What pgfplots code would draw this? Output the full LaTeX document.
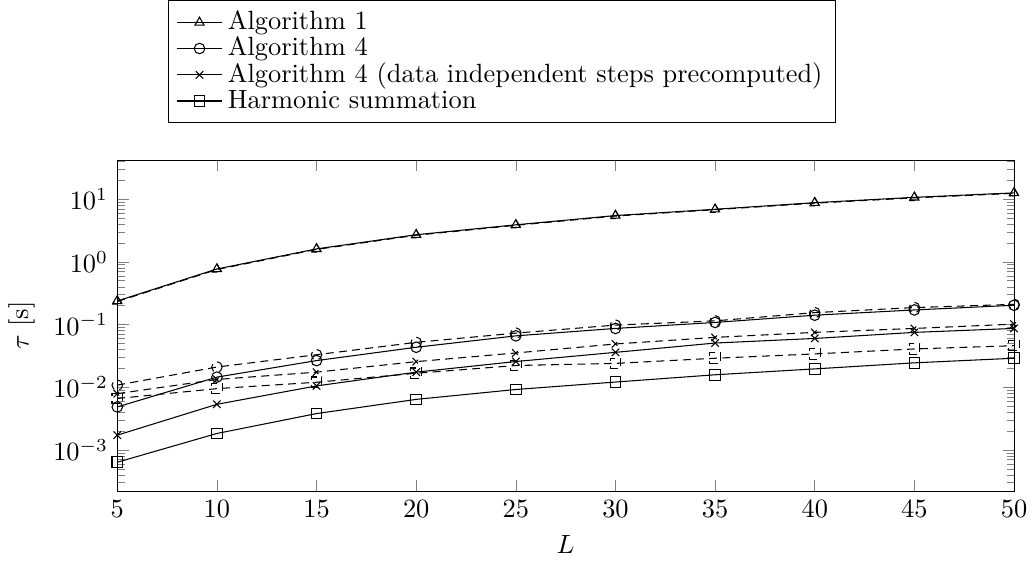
\documentclass[border=0pt]{standalone}
\usepackage{pgfplots}
\pgfplotsset{compat=1.18}
\begin{document}
\begin{tikzpicture}
\begin{axis}[
  scale only axis,
  width=340pt, height=125.5pt,
  ymode=log,
  xmin=5, xmax=50,
  ymin=2.2e-4, ymax=42,
  xtick={5,10,...,50},
  xlabel={$L$},
  ylabel={$\tau$ [s]},
  legend cell align=left,
  legend style={at={(0.8017,1.112)}, anchor=south east, row sep=-2.8pt},
]
\addplot[black, mark=triangle] coordinates {(5,0.238) (10,0.77) (15,1.61) (20,2.71) (25,3.90) (30,5.48) (35,6.9) (40,8.8) (45,10.7) (50,12.6)};
\addlegendentry{Algorithm 1}
\addplot[black, mark=o] coordinates {(5,0.00485) (10,0.0145) (15,0.0266) (20,0.0434) (25,0.066) (30,0.0867) (35,0.108) (40,0.141) (45,0.171) (50,0.203)};
\addlegendentry{Algorithm 4}
\addplot[black, mark=x] coordinates {(5,0.00172) (10,0.00534) (15,0.0105) (20,0.0174) (25,0.0257) (30,0.036) (35,0.0507) (40,0.060) (45,0.075) (50,0.0867)};
\addlegendentry{Algorithm 4 (data independent steps precomputed)}
\addplot[black, mark=square] coordinates {(5,0.000636) (10,0.00183) (15,0.0038) (20,0.0064) (25,0.0092) (30,0.0121) (35,0.0158) (40,0.0196) (45,0.0245) (50,0.029)};
\addlegendentry{Harmonic summation}
\addplot[black, densely dashed, mark=triangle, forget plot] coordinates {(5,0.233) (10,0.755) (15,1.58) (20,2.66) (25,3.83) (30,5.38) (35,6.8) (40,8.65) (45,10.5) (50,12.4)};
\addplot[black, densely dashed, mark=o, forget plot] coordinates {(5,0.0108) (10,0.021) (15,0.033) (20,0.052) (25,0.073) (30,0.098) (35,0.1145) (40,0.155) (45,0.1866) (50,0.21)};
\addplot[black, densely dashed, mark=x, forget plot] coordinates {(5,0.0079) (10,0.0133) (15,0.0174) (20,0.0256) (25,0.0352) (30,0.049) (35,0.0624) (40,0.075) (45,0.0867) (50,0.1015)};
\addplot[black, densely dashed, mark=square, forget plot] coordinates {(5,0.0066) (10,0.0095) (15,0.012) (20,0.0167) (25,0.0222) (30,0.024) (35,0.029) (40,0.034) (45,0.0408) (50,0.046)};
\end{axis}
\end{tikzpicture}
\end{document}
